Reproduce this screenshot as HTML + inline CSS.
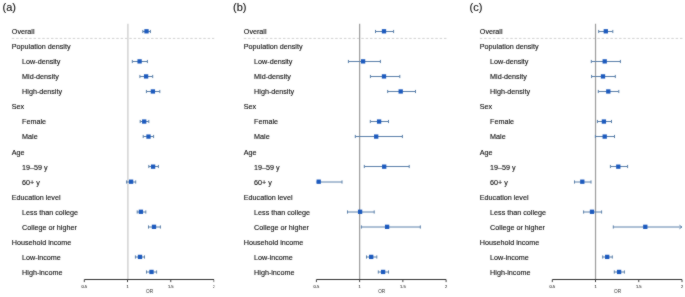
<!DOCTYPE html>
<html><head><meta charset="utf-8"><style>
html,body{margin:0;padding:0;background:#fff;}
body{width:685px;height:297px;overflow:hidden;}
#w{width:685px;height:297px;}
svg{display:block;font-family:"Liberation Sans",sans-serif;will-change:transform;}
text{}
.t{stroke:currentColor;stroke-width:0.12px;}
</style></head><body><div id="w">
<svg width="685" height="297" viewBox="0 0 685 297">
<defs><filter id="bl" x="0" y="0" width="685" height="297" filterUnits="userSpaceOnUse" color-interpolation-filters="sRGB"><feConvolveMatrix order="3" kernelMatrix="1 2 1 2 24 2 1 2 1" edgeMode="duplicate"/></filter></defs>
<g filter="url(#bl)">
<rect width="685" height="297" fill="#fff"/>
<clipPath id="c0"><rect x="-5" y="0" width="219.4" height="297"/></clipPath><g clip-path="url(#c0)">
<text class="t" x="2.5" y="11.2" font-size="11" fill="#111" color="#111">(a)</text>
<text class="t" x="11.8" y="34.2" font-size="7.2" fill="#111" color="#111">Overall</text>
<text class="t" x="11.8" y="49.24" font-size="7.2" fill="#111" color="#111">Population density</text>
<text class="t" x="22.1" y="64.28" font-size="7.2" fill="#111" color="#111">Low-density</text>
<text class="t" x="22.1" y="79.32" font-size="7.2" fill="#111" color="#111">Mid-density</text>
<text class="t" x="22.1" y="94.36" font-size="7.2" fill="#111" color="#111">High-density</text>
<text class="t" x="11.8" y="109.4" font-size="7.2" fill="#111" color="#111">Sex</text>
<text class="t" x="22.1" y="124.44" font-size="7.2" fill="#111" color="#111">Female</text>
<text class="t" x="22.1" y="139.48" font-size="7.2" fill="#111" color="#111">Male</text>
<text class="t" x="11.8" y="154.52" font-size="7.2" fill="#111" color="#111">Age</text>
<text class="t" x="22.1" y="169.56" font-size="7.2" fill="#111" color="#111">19–59 y</text>
<text class="t" x="22.1" y="184.6" font-size="7.2" fill="#111" color="#111">60+ y</text>
<text class="t" x="11.8" y="199.64" font-size="7.2" fill="#111" color="#111">Education level</text>
<text class="t" x="22.1" y="214.68" font-size="7.2" fill="#111" color="#111">Less than college</text>
<text class="t" x="22.1" y="229.72" font-size="7.2" fill="#111" color="#111">College or higher</text>
<text class="t" x="11.8" y="244.76" font-size="7.2" fill="#111" color="#111">Household income</text>
<text class="t" x="22.1" y="259.8" font-size="7.2" fill="#111" color="#111">Low-income</text>
<text class="t" x="22.1" y="274.84" font-size="7.2" fill="#111" color="#111">High-income</text>
<line x1="11.8" y1="38.4" x2="214.5" y2="38.4" stroke="#d2d2d2" stroke-width="1" stroke-dasharray="2.5,1.852"/>
<line x1="127.88" y1="23.8" x2="127.88" y2="279.5" stroke="#d6d6d6" stroke-width="1.6"/>
<line x1="84.3" y1="279.5" x2="214" y2="279.5" stroke="#333" stroke-width="1.2"/>
<line x1="84.3" y1="279.5" x2="84.3" y2="282.1" stroke="#444" stroke-width="1"/>
<text x="84.3" y="287.8" font-size="4.0" fill="#333" stroke="#333" stroke-width="0.1" text-anchor="middle">0.5</text>
<line x1="127.53" y1="279.5" x2="127.53" y2="282.1" stroke="#444" stroke-width="1"/>
<text x="127.53" y="287.8" font-size="4.0" fill="#333" stroke="#333" stroke-width="0.1" text-anchor="middle">1</text>
<line x1="170.77" y1="279.5" x2="170.77" y2="282.1" stroke="#444" stroke-width="1"/>
<text x="170.77" y="287.8" font-size="4.0" fill="#333" stroke="#333" stroke-width="0.1" text-anchor="middle">1.5</text>
<line x1="214" y1="279.5" x2="214" y2="282.1" stroke="#444" stroke-width="1"/>
<text x="214" y="287.8" font-size="4.0" fill="#333" stroke="#333" stroke-width="0.1" text-anchor="middle">2</text>
<text x="149.55" y="292.5" font-size="4.7" fill="#333" color="#333" text-anchor="middle">OR</text>
<line x1="142.8" y1="31.5" x2="150.4" y2="31.5" stroke="#5b80aa" stroke-width="1"/>
<line x1="142.8" y1="29.9" x2="142.8" y2="33.1" stroke="#5b80aa" stroke-width="1"/>
<line x1="150.4" y1="29.9" x2="150.4" y2="33.1" stroke="#5b80aa" stroke-width="1"/>
<rect x="144.35" y="29.15" width="4.3" height="4.3" fill="#1c5abe"/>
<line x1="132.3" y1="61.5" x2="147.4" y2="61.5" stroke="#5b80aa" stroke-width="1"/>
<line x1="132.3" y1="59.9" x2="132.3" y2="63.1" stroke="#5b80aa" stroke-width="1"/>
<line x1="147.4" y1="59.9" x2="147.4" y2="63.1" stroke="#5b80aa" stroke-width="1"/>
<rect x="137.45" y="59.23" width="4.3" height="4.3" fill="#1c5abe"/>
<line x1="139.9" y1="76.5" x2="152.7" y2="76.5" stroke="#5b80aa" stroke-width="1"/>
<line x1="139.9" y1="74.9" x2="139.9" y2="78.1" stroke="#5b80aa" stroke-width="1"/>
<line x1="152.7" y1="74.9" x2="152.7" y2="78.1" stroke="#5b80aa" stroke-width="1"/>
<rect x="143.95" y="74.27" width="4.3" height="4.3" fill="#1c5abe"/>
<line x1="146.4" y1="91.5" x2="159.8" y2="91.5" stroke="#5b80aa" stroke-width="1"/>
<line x1="146.4" y1="89.9" x2="146.4" y2="93.1" stroke="#5b80aa" stroke-width="1"/>
<line x1="159.8" y1="89.9" x2="159.8" y2="93.1" stroke="#5b80aa" stroke-width="1"/>
<rect x="150.75" y="89.31" width="4.3" height="4.3" fill="#1c5abe"/>
<line x1="140.2" y1="121.5" x2="148.8" y2="121.5" stroke="#5b80aa" stroke-width="1"/>
<line x1="140.2" y1="119.9" x2="140.2" y2="123.1" stroke="#5b80aa" stroke-width="1"/>
<line x1="148.8" y1="119.9" x2="148.8" y2="123.1" stroke="#5b80aa" stroke-width="1"/>
<rect x="142.05" y="119.39" width="4.3" height="4.3" fill="#1c5abe"/>
<line x1="143.2" y1="136.5" x2="153.6" y2="136.5" stroke="#5b80aa" stroke-width="1"/>
<line x1="143.2" y1="134.9" x2="143.2" y2="138.1" stroke="#5b80aa" stroke-width="1"/>
<line x1="153.6" y1="134.9" x2="153.6" y2="138.1" stroke="#5b80aa" stroke-width="1"/>
<rect x="146.35" y="134.43" width="4.3" height="4.3" fill="#1c5abe"/>
<line x1="148.8" y1="166.5" x2="158.4" y2="166.5" stroke="#5b80aa" stroke-width="1"/>
<line x1="148.8" y1="164.9" x2="148.8" y2="168.1" stroke="#5b80aa" stroke-width="1"/>
<line x1="158.4" y1="164.9" x2="158.4" y2="168.1" stroke="#5b80aa" stroke-width="1"/>
<rect x="150.95" y="164.51" width="4.3" height="4.3" fill="#1c5abe"/>
<line x1="126.6" y1="182" x2="135.7" y2="182" stroke="#5b80aa" stroke-width="1"/>
<line x1="126.6" y1="180.4" x2="126.6" y2="183.6" stroke="#5b80aa" stroke-width="1"/>
<line x1="135.7" y1="180.4" x2="135.7" y2="183.6" stroke="#5b80aa" stroke-width="1"/>
<rect x="128.95" y="179.55" width="4.3" height="4.3" fill="#1c5abe"/>
<line x1="137.2" y1="212" x2="145.8" y2="212" stroke="#5b80aa" stroke-width="1"/>
<line x1="137.2" y1="210.4" x2="137.2" y2="213.6" stroke="#5b80aa" stroke-width="1"/>
<line x1="145.8" y1="210.4" x2="145.8" y2="213.6" stroke="#5b80aa" stroke-width="1"/>
<rect x="138.75" y="209.63" width="4.3" height="4.3" fill="#1c5abe"/>
<line x1="148.5" y1="227" x2="160.4" y2="227" stroke="#5b80aa" stroke-width="1"/>
<line x1="148.5" y1="225.4" x2="148.5" y2="228.6" stroke="#5b80aa" stroke-width="1"/>
<line x1="160.4" y1="225.4" x2="160.4" y2="228.6" stroke="#5b80aa" stroke-width="1"/>
<rect x="151.85" y="224.67" width="4.3" height="4.3" fill="#1c5abe"/>
<line x1="135.4" y1="257" x2="144.5" y2="257" stroke="#5b80aa" stroke-width="1"/>
<line x1="135.4" y1="255.4" x2="135.4" y2="258.6" stroke="#5b80aa" stroke-width="1"/>
<line x1="144.5" y1="255.4" x2="144.5" y2="258.6" stroke="#5b80aa" stroke-width="1"/>
<rect x="137.85" y="254.75" width="4.3" height="4.3" fill="#1c5abe"/>
<line x1="146.5" y1="272" x2="156.6" y2="272" stroke="#5b80aa" stroke-width="1"/>
<line x1="146.5" y1="270.4" x2="146.5" y2="273.6" stroke="#5b80aa" stroke-width="1"/>
<line x1="156.6" y1="270.4" x2="156.6" y2="273.6" stroke="#5b80aa" stroke-width="1"/>
<rect x="149.35" y="269.79" width="4.3" height="4.3" fill="#1c5abe"/>
</g>
<clipPath id="c1"><rect x="227" y="0" width="220" height="297"/></clipPath><g clip-path="url(#c1)">
<text class="t" x="233" y="11.2" font-size="11" fill="#111" color="#111">(b)</text>
<text class="t" x="243.8" y="34.2" font-size="7.2" fill="#111" color="#111">Overall</text>
<text class="t" x="243.8" y="49.24" font-size="7.2" fill="#111" color="#111">Population density</text>
<text class="t" x="254.1" y="64.28" font-size="7.2" fill="#111" color="#111">Low-density</text>
<text class="t" x="254.1" y="79.32" font-size="7.2" fill="#111" color="#111">Mid-density</text>
<text class="t" x="254.1" y="94.36" font-size="7.2" fill="#111" color="#111">High-density</text>
<text class="t" x="243.8" y="109.4" font-size="7.2" fill="#111" color="#111">Sex</text>
<text class="t" x="254.1" y="124.44" font-size="7.2" fill="#111" color="#111">Female</text>
<text class="t" x="254.1" y="139.48" font-size="7.2" fill="#111" color="#111">Male</text>
<text class="t" x="243.8" y="154.52" font-size="7.2" fill="#111" color="#111">Age</text>
<text class="t" x="254.1" y="169.56" font-size="7.2" fill="#111" color="#111">19–59 y</text>
<text class="t" x="254.1" y="184.6" font-size="7.2" fill="#111" color="#111">60+ y</text>
<text class="t" x="243.8" y="199.64" font-size="7.2" fill="#111" color="#111">Education level</text>
<text class="t" x="254.1" y="214.68" font-size="7.2" fill="#111" color="#111">Less than college</text>
<text class="t" x="254.1" y="229.72" font-size="7.2" fill="#111" color="#111">College or higher</text>
<text class="t" x="243.8" y="244.76" font-size="7.2" fill="#111" color="#111">Household income</text>
<text class="t" x="254.1" y="259.8" font-size="7.2" fill="#111" color="#111">Low-income</text>
<text class="t" x="254.1" y="274.84" font-size="7.2" fill="#111" color="#111">High-income</text>
<line x1="243.8" y1="38.4" x2="446.6" y2="38.4" stroke="#d2d2d2" stroke-width="1" stroke-dasharray="2.5,1.852"/>
<line x1="359.63" y1="23.8" x2="359.63" y2="279.5" stroke="#9c9c9c" stroke-width="1.2"/>
<line x1="316.4" y1="279.5" x2="446.1" y2="279.5" stroke="#333" stroke-width="1.2"/>
<line x1="316.4" y1="279.5" x2="316.4" y2="282.1" stroke="#444" stroke-width="1"/>
<text x="316.4" y="287.8" font-size="4.0" fill="#333" stroke="#333" stroke-width="0.1" text-anchor="middle">0.5</text>
<line x1="359.63" y1="279.5" x2="359.63" y2="282.1" stroke="#444" stroke-width="1"/>
<text x="359.63" y="287.8" font-size="4.0" fill="#333" stroke="#333" stroke-width="0.1" text-anchor="middle">1</text>
<line x1="402.87" y1="279.5" x2="402.87" y2="282.1" stroke="#444" stroke-width="1"/>
<text x="402.87" y="287.8" font-size="4.0" fill="#333" stroke="#333" stroke-width="0.1" text-anchor="middle">1.5</text>
<line x1="446.1" y1="279.5" x2="446.1" y2="282.1" stroke="#444" stroke-width="1"/>
<text x="446.1" y="287.8" font-size="4.0" fill="#333" stroke="#333" stroke-width="0.1" text-anchor="middle">2</text>
<text x="381.65" y="292.5" font-size="4.7" fill="#333" color="#333" text-anchor="middle">OR</text>
<line x1="375.5" y1="31.5" x2="393.6" y2="31.5" stroke="#5b80aa" stroke-width="1"/>
<line x1="375.5" y1="29.9" x2="375.5" y2="33.1" stroke="#5b80aa" stroke-width="1"/>
<line x1="393.6" y1="29.9" x2="393.6" y2="33.1" stroke="#5b80aa" stroke-width="1"/>
<rect x="381.85" y="29.15" width="4.3" height="4.3" fill="#1c5abe"/>
<line x1="348.4" y1="61.5" x2="380.4" y2="61.5" stroke="#5b80aa" stroke-width="1"/>
<line x1="348.4" y1="59.9" x2="348.4" y2="63.1" stroke="#5b80aa" stroke-width="1"/>
<line x1="380.4" y1="59.9" x2="380.4" y2="63.1" stroke="#5b80aa" stroke-width="1"/>
<rect x="360.95" y="59.23" width="4.3" height="4.3" fill="#1c5abe"/>
<line x1="370.4" y1="76.5" x2="399.8" y2="76.5" stroke="#5b80aa" stroke-width="1"/>
<line x1="370.4" y1="74.9" x2="370.4" y2="78.1" stroke="#5b80aa" stroke-width="1"/>
<line x1="399.8" y1="74.9" x2="399.8" y2="78.1" stroke="#5b80aa" stroke-width="1"/>
<rect x="381.85" y="74.27" width="4.3" height="4.3" fill="#1c5abe"/>
<line x1="387.7" y1="91.5" x2="415.5" y2="91.5" stroke="#5b80aa" stroke-width="1"/>
<line x1="387.7" y1="89.9" x2="387.7" y2="93.1" stroke="#5b80aa" stroke-width="1"/>
<line x1="415.5" y1="89.9" x2="415.5" y2="93.1" stroke="#5b80aa" stroke-width="1"/>
<rect x="398.55" y="89.31" width="4.3" height="4.3" fill="#1c5abe"/>
<line x1="370.3" y1="121.5" x2="388.5" y2="121.5" stroke="#5b80aa" stroke-width="1"/>
<line x1="370.3" y1="119.9" x2="370.3" y2="123.1" stroke="#5b80aa" stroke-width="1"/>
<line x1="388.5" y1="119.9" x2="388.5" y2="123.1" stroke="#5b80aa" stroke-width="1"/>
<rect x="376.95" y="119.39" width="4.3" height="4.3" fill="#1c5abe"/>
<line x1="355.3" y1="136.5" x2="402.4" y2="136.5" stroke="#5b80aa" stroke-width="1"/>
<line x1="355.3" y1="134.9" x2="355.3" y2="138.1" stroke="#5b80aa" stroke-width="1"/>
<line x1="402.4" y1="134.9" x2="402.4" y2="138.1" stroke="#5b80aa" stroke-width="1"/>
<rect x="374.05" y="134.43" width="4.3" height="4.3" fill="#1c5abe"/>
<line x1="364.3" y1="166.5" x2="409.2" y2="166.5" stroke="#5b80aa" stroke-width="1"/>
<line x1="364.3" y1="164.9" x2="364.3" y2="168.1" stroke="#5b80aa" stroke-width="1"/>
<line x1="409.2" y1="164.9" x2="409.2" y2="168.1" stroke="#5b80aa" stroke-width="1"/>
<rect x="382.05" y="164.51" width="4.3" height="4.3" fill="#1c5abe"/>
<line x1="316.4" y1="182" x2="342" y2="182" stroke="#5b80aa" stroke-width="1"/>
<line x1="342" y1="180.4" x2="342" y2="183.6" stroke="#5b80aa" stroke-width="1"/>
<rect x="316.55" y="179.55" width="4.3" height="4.3" fill="#1c5abe"/>
<line x1="347.5" y1="212" x2="374.2" y2="212" stroke="#5b80aa" stroke-width="1"/>
<line x1="347.5" y1="210.4" x2="347.5" y2="213.6" stroke="#5b80aa" stroke-width="1"/>
<line x1="374.2" y1="210.4" x2="374.2" y2="213.6" stroke="#5b80aa" stroke-width="1"/>
<rect x="357.95" y="209.63" width="4.3" height="4.3" fill="#1c5abe"/>
<line x1="361.4" y1="227" x2="420.3" y2="227" stroke="#5b80aa" stroke-width="1"/>
<line x1="361.4" y1="225.4" x2="361.4" y2="228.6" stroke="#5b80aa" stroke-width="1"/>
<line x1="420.3" y1="225.4" x2="420.3" y2="228.6" stroke="#5b80aa" stroke-width="1"/>
<rect x="384.95" y="224.67" width="4.3" height="4.3" fill="#1c5abe"/>
<line x1="366.5" y1="257" x2="376.8" y2="257" stroke="#5b80aa" stroke-width="1"/>
<line x1="366.5" y1="255.4" x2="366.5" y2="258.6" stroke="#5b80aa" stroke-width="1"/>
<line x1="376.8" y1="255.4" x2="376.8" y2="258.6" stroke="#5b80aa" stroke-width="1"/>
<rect x="369.05" y="254.75" width="4.3" height="4.3" fill="#1c5abe"/>
<line x1="378.3" y1="272" x2="388.5" y2="272" stroke="#5b80aa" stroke-width="1"/>
<line x1="378.3" y1="270.4" x2="378.3" y2="273.6" stroke="#5b80aa" stroke-width="1"/>
<line x1="388.5" y1="270.4" x2="388.5" y2="273.6" stroke="#5b80aa" stroke-width="1"/>
<rect x="380.95" y="269.79" width="4.3" height="4.3" fill="#1c5abe"/>
</g>
<clipPath id="c2"><rect x="463" y="0" width="220" height="297"/></clipPath><g clip-path="url(#c2)">
<text class="t" x="469.6" y="11.2" font-size="11" fill="#111" color="#111">(c)</text>
<text class="t" x="479.8" y="34.2" font-size="7.2" fill="#111" color="#111">Overall</text>
<text class="t" x="479.8" y="49.24" font-size="7.2" fill="#111" color="#111">Population density</text>
<text class="t" x="490.1" y="64.28" font-size="7.2" fill="#111" color="#111">Low-density</text>
<text class="t" x="490.1" y="79.32" font-size="7.2" fill="#111" color="#111">Mid-density</text>
<text class="t" x="490.1" y="94.36" font-size="7.2" fill="#111" color="#111">High-density</text>
<text class="t" x="479.8" y="109.4" font-size="7.2" fill="#111" color="#111">Sex</text>
<text class="t" x="490.1" y="124.44" font-size="7.2" fill="#111" color="#111">Female</text>
<text class="t" x="490.1" y="139.48" font-size="7.2" fill="#111" color="#111">Male</text>
<text class="t" x="479.8" y="154.52" font-size="7.2" fill="#111" color="#111">Age</text>
<text class="t" x="490.1" y="169.56" font-size="7.2" fill="#111" color="#111">19–59 y</text>
<text class="t" x="490.1" y="184.6" font-size="7.2" fill="#111" color="#111">60+ y</text>
<text class="t" x="479.8" y="199.64" font-size="7.2" fill="#111" color="#111">Education level</text>
<text class="t" x="490.1" y="214.68" font-size="7.2" fill="#111" color="#111">Less than college</text>
<text class="t" x="490.1" y="229.72" font-size="7.2" fill="#111" color="#111">College or higher</text>
<text class="t" x="479.8" y="244.76" font-size="7.2" fill="#111" color="#111">Household income</text>
<text class="t" x="490.1" y="259.8" font-size="7.2" fill="#111" color="#111">Low-income</text>
<text class="t" x="490.1" y="274.84" font-size="7.2" fill="#111" color="#111">High-income</text>
<line x1="479.8" y1="38.4" x2="682.5" y2="38.4" stroke="#d2d2d2" stroke-width="1" stroke-dasharray="2.5,1.852"/>
<line x1="595.53" y1="23.8" x2="595.53" y2="279.5" stroke="#9c9c9c" stroke-width="1.2"/>
<line x1="552.3" y1="279.5" x2="682" y2="279.5" stroke="#333" stroke-width="1.2"/>
<line x1="552.3" y1="279.5" x2="552.3" y2="282.1" stroke="#444" stroke-width="1"/>
<text x="552.3" y="287.8" font-size="4.0" fill="#333" stroke="#333" stroke-width="0.1" text-anchor="middle">0.5</text>
<line x1="595.53" y1="279.5" x2="595.53" y2="282.1" stroke="#444" stroke-width="1"/>
<text x="595.53" y="287.8" font-size="4.0" fill="#333" stroke="#333" stroke-width="0.1" text-anchor="middle">1</text>
<line x1="638.77" y1="279.5" x2="638.77" y2="282.1" stroke="#444" stroke-width="1"/>
<text x="638.77" y="287.8" font-size="4.0" fill="#333" stroke="#333" stroke-width="0.1" text-anchor="middle">1.5</text>
<line x1="682" y1="279.5" x2="682" y2="282.1" stroke="#444" stroke-width="1"/>
<text x="682" y="287.8" font-size="4.0" fill="#333" stroke="#333" stroke-width="0.1" text-anchor="middle">2</text>
<text x="617.55" y="292.5" font-size="4.7" fill="#333" color="#333" text-anchor="middle">OR</text>
<line x1="598.7" y1="31.5" x2="612.8" y2="31.5" stroke="#5b80aa" stroke-width="1"/>
<line x1="598.7" y1="29.9" x2="598.7" y2="33.1" stroke="#5b80aa" stroke-width="1"/>
<line x1="612.8" y1="29.9" x2="612.8" y2="33.1" stroke="#5b80aa" stroke-width="1"/>
<rect x="603.65" y="29.15" width="4.3" height="4.3" fill="#1c5abe"/>
<line x1="591.3" y1="61.5" x2="620.4" y2="61.5" stroke="#5b80aa" stroke-width="1"/>
<line x1="591.3" y1="59.9" x2="591.3" y2="63.1" stroke="#5b80aa" stroke-width="1"/>
<line x1="620.4" y1="59.9" x2="620.4" y2="63.1" stroke="#5b80aa" stroke-width="1"/>
<rect x="602.55" y="59.23" width="4.3" height="4.3" fill="#1c5abe"/>
<line x1="591.6" y1="76.5" x2="615.3" y2="76.5" stroke="#5b80aa" stroke-width="1"/>
<line x1="591.6" y1="74.9" x2="591.6" y2="78.1" stroke="#5b80aa" stroke-width="1"/>
<line x1="615.3" y1="74.9" x2="615.3" y2="78.1" stroke="#5b80aa" stroke-width="1"/>
<rect x="600.85" y="74.27" width="4.3" height="4.3" fill="#1c5abe"/>
<line x1="598.3" y1="91.5" x2="618.8" y2="91.5" stroke="#5b80aa" stroke-width="1"/>
<line x1="598.3" y1="89.9" x2="598.3" y2="93.1" stroke="#5b80aa" stroke-width="1"/>
<line x1="618.8" y1="89.9" x2="618.8" y2="93.1" stroke="#5b80aa" stroke-width="1"/>
<rect x="606.15" y="89.31" width="4.3" height="4.3" fill="#1c5abe"/>
<line x1="597.4" y1="121.5" x2="611.5" y2="121.5" stroke="#5b80aa" stroke-width="1"/>
<line x1="597.4" y1="119.9" x2="597.4" y2="123.1" stroke="#5b80aa" stroke-width="1"/>
<line x1="611.5" y1="119.9" x2="611.5" y2="123.1" stroke="#5b80aa" stroke-width="1"/>
<rect x="601.75" y="119.39" width="4.3" height="4.3" fill="#1c5abe"/>
<line x1="595.4" y1="136.5" x2="614.5" y2="136.5" stroke="#5b80aa" stroke-width="1"/>
<line x1="595.4" y1="134.9" x2="595.4" y2="138.1" stroke="#5b80aa" stroke-width="1"/>
<line x1="614.5" y1="134.9" x2="614.5" y2="138.1" stroke="#5b80aa" stroke-width="1"/>
<rect x="602.55" y="134.43" width="4.3" height="4.3" fill="#1c5abe"/>
<line x1="610.4" y1="166.5" x2="627.6" y2="166.5" stroke="#5b80aa" stroke-width="1"/>
<line x1="610.4" y1="164.9" x2="610.4" y2="168.1" stroke="#5b80aa" stroke-width="1"/>
<line x1="627.6" y1="164.9" x2="627.6" y2="168.1" stroke="#5b80aa" stroke-width="1"/>
<rect x="616.15" y="164.51" width="4.3" height="4.3" fill="#1c5abe"/>
<line x1="574.5" y1="182" x2="591" y2="182" stroke="#5b80aa" stroke-width="1"/>
<line x1="574.5" y1="180.4" x2="574.5" y2="183.6" stroke="#5b80aa" stroke-width="1"/>
<line x1="591" y1="180.4" x2="591" y2="183.6" stroke="#5b80aa" stroke-width="1"/>
<rect x="580.15" y="179.55" width="4.3" height="4.3" fill="#1c5abe"/>
<line x1="583.6" y1="212" x2="601.6" y2="212" stroke="#5b80aa" stroke-width="1"/>
<line x1="583.6" y1="210.4" x2="583.6" y2="213.6" stroke="#5b80aa" stroke-width="1"/>
<line x1="601.6" y1="210.4" x2="601.6" y2="213.6" stroke="#5b80aa" stroke-width="1"/>
<rect x="589.85" y="209.63" width="4.3" height="4.3" fill="#1c5abe"/>
<line x1="613.3" y1="227" x2="682" y2="227" stroke="#5b80aa" stroke-width="1"/>
<line x1="613.3" y1="225.4" x2="613.3" y2="228.6" stroke="#5b80aa" stroke-width="1"/>
<polyline points="679.4,225.2 682,227 679.4,228.8" fill="none" stroke="#5b80aa" stroke-width="0.9"/>
<rect x="643.15" y="224.67" width="4.3" height="4.3" fill="#1c5abe"/>
<line x1="602.7" y1="257" x2="612.3" y2="257" stroke="#5b80aa" stroke-width="1"/>
<line x1="602.7" y1="255.4" x2="602.7" y2="258.6" stroke="#5b80aa" stroke-width="1"/>
<line x1="612.3" y1="255.4" x2="612.3" y2="258.6" stroke="#5b80aa" stroke-width="1"/>
<rect x="605.05" y="254.75" width="4.3" height="4.3" fill="#1c5abe"/>
<line x1="614.3" y1="272" x2="624.4" y2="272" stroke="#5b80aa" stroke-width="1"/>
<line x1="614.3" y1="270.4" x2="614.3" y2="273.6" stroke="#5b80aa" stroke-width="1"/>
<line x1="624.4" y1="270.4" x2="624.4" y2="273.6" stroke="#5b80aa" stroke-width="1"/>
<rect x="616.95" y="269.79" width="4.3" height="4.3" fill="#1c5abe"/>
</g>
</g></svg></div></body></html>
